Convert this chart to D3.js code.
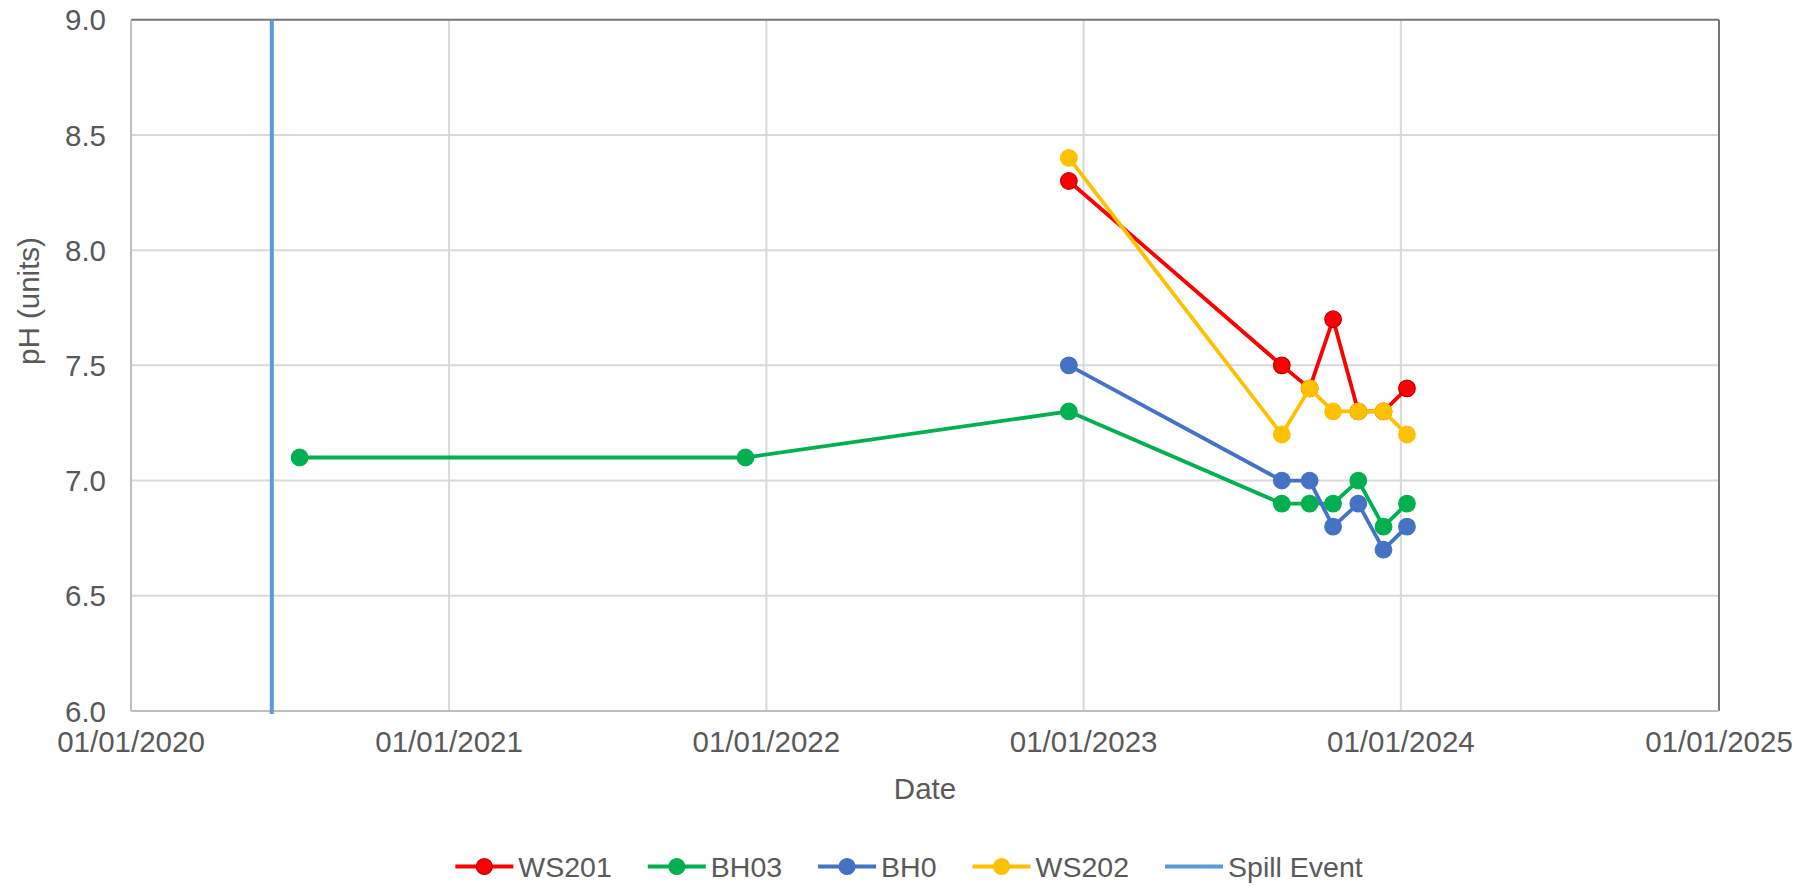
<!DOCTYPE html>
<html>
<head>
<meta charset="utf-8">
<script src="https://cdn.jsdelivr.net/npm/d3@7"></script>
<style>
  body { margin: 0; background: #fff; }
  text { font-family: "Liberation Sans", Arial, sans-serif; fill: #595959; }
</style>
</head>
<body>
<div id="chart"></div>
<script>
// data
var xTicks = ["2020-01-01", "2021-01-01", "2022-01-01", "2023-01-01", "2024-01-01", "2025-01-01"];
var yTicks = [6.0, 6.5, 7.0, 7.5, 8.0, 8.5, 9.0];
var spillDate = "2020-06-11";

var ws201Dates = ["2022-12-15", "2023-08-17", "2023-09-18", "2023-10-15", "2023-11-13", "2023-12-12", "2024-01-08"];
var ws201Values = [8.3, 7.5, 7.4, 7.7, 7.3, 7.3, 7.4];

var bh03Dates = ["2020-07-13", "2021-12-08", "2022-12-15", "2023-08-17", "2023-09-18", "2023-10-15", "2023-11-13", "2023-12-12", "2024-01-08"];
var bh03Values = [7.1, 7.1, 7.3, 6.9, 6.9, 6.9, 7.0, 6.8, 6.9];

var bh0Dates = ["2022-12-15", "2023-08-17", "2023-09-18", "2023-10-15", "2023-11-13", "2023-12-12", "2024-01-08"];
var bh0Values = [7.5, 7.0, 7.0, 6.8, 6.9, 6.7, 6.8];

var ws202Dates = ["2022-12-15", "2023-08-17", "2023-09-18", "2023-10-15", "2023-11-13", "2023-12-12", "2024-01-08"];
var ws202Values = [8.4, 7.2, 7.4, 7.3, 7.3, 7.3, 7.2];

var parse = d3.utcParse("%Y-%m-%d");

function pairs(dates, values) {
  return dates.map(function(d, i){ return { date: parse(d), value: values[i] }; });
}

var series = [
  { name: "WS201", color: "#ff0000", edge: "#c00000", points: pairs(ws201Dates, ws201Values) },
  { name: "BH03",  color: "#00b050", edge: "#00b050", points: pairs(bh03Dates, bh03Values) },
  { name: "BH0",   color: "#4472c4", edge: "#4472c4", points: pairs(bh0Dates, bh0Values) },
  { name: "WS202", color: "#ffc000", edge: "#ffc000", points: pairs(ws202Dates, ws202Values) }
];

var width = 1816, height = 886;
var plotLeft = 131, plotRight = 1719, plotTop = 19.7, plotBottom = 711;

var svg = d3.select("#chart")
  .append("svg")
  .attr("width", width)
  .attr("height", height);

var x = d3.scaleUtc()
  .domain([parse(xTicks[0]), parse(xTicks[xTicks.length - 1])])
  .range([plotLeft, plotRight]);

var y = d3.scaleLinear()
  .domain([6, 9])
  .range([plotBottom, plotTop]);

// gridlines
svg.append("g")
  .selectAll("line")
  .data(yTicks.slice(1, -1)).enter().append("line")
    .attr("x1", plotLeft).attr("x2", plotRight)
    .attr("y1", function(d){ return y(d); })
    .attr("y2", function(d){ return y(d); })
    .attr("stroke", "#d9d9d9")
    .attr("stroke-width", 2);

svg.append("g")
  .selectAll("line")
  .data(xTicks.slice(1, -1)).enter().append("line")
    .attr("x1", function(d){ return x(parse(d)); })
    .attr("x2", function(d){ return x(parse(d)); })
    .attr("y1", plotTop).attr("y2", plotBottom)
    .attr("stroke", "#d9d9d9")
    .attr("stroke-width", 2);

// frame: light left/bottom axes, darker top/right edges
svg.append("line").attr("x1", plotLeft).attr("x2", plotRight).attr("y1", plotTop).attr("y2", plotTop)
  .attr("stroke", "#767676").attr("stroke-width", 2);
svg.append("line").attr("x1", plotRight).attr("x2", plotRight).attr("y1", plotTop).attr("y2", plotBottom)
  .attr("stroke", "#767676").attr("stroke-width", 2);
svg.append("line").attr("x1", plotLeft).attr("x2", plotLeft).attr("y1", plotTop).attr("y2", plotBottom)
  .attr("stroke", "#bfbfbf").attr("stroke-width", 2);
svg.append("line").attr("x1", plotLeft).attr("x2", plotRight).attr("y1", plotBottom).attr("y2", plotBottom)
  .attr("stroke", "#bfbfbf").attr("stroke-width", 2);

// axes labels
var fmt = d3.utcFormat("%d/%m/%Y");
svg.append("g")
  .selectAll("text")
  .data(xTicks).enter().append("text")
    .attr("x", function(d){ return x(parse(d)); })
    .attr("y", 752)
    .attr("text-anchor", "middle")
    .attr("font-size", 29.5)
    .text(function(d){ return fmt(parse(d)); });

svg.append("g")
  .selectAll("text")
  .data(yTicks).enter().append("text")
    .attr("x", 106)
    .attr("y", function(d){ return y(d); })
    .attr("dy", "0.36em")
    .attr("text-anchor", "end")
    .attr("font-size", 29.5)
    .text(function(d){ return d.toFixed(1); });

svg.append("text")
  .attr("x", 925).attr("y", 799)
  .attr("text-anchor", "middle")
  .attr("font-size", 29.5)
  .text("Date");

svg.append("text")
  .attr("transform", "translate(28,301) rotate(-90)")
  .attr("dy", "0.36em")
  .attr("text-anchor", "middle")
  .attr("font-size", 29.5)
  .text("pH (units)");

// spill event
svg.append("line")
  .attr("x1", x(parse(spillDate))).attr("x2", x(parse(spillDate)))
  .attr("y1", plotTop).attr("y2", plotBottom + 3)
  .attr("stroke", "#5b9bd5")
  .attr("stroke-width", 4);

// series
var line = d3.line()
  .x(function(d){ return x(d.date); })
  .y(function(d){ return y(d.value); });

series.forEach(function(s){
  var g = svg.append("g");
  g.append("path")
    .datum(s.points)
    .attr("d", line)
    .attr("fill", "none")
    .attr("stroke", s.color)
    .attr("stroke-width", 3.8)
    .attr("stroke-linejoin", "round");
  g.selectAll("circle")
    .data(s.points).enter().append("circle")
      .attr("cx", function(d){ return x(d.date); })
      .attr("cy", function(d){ return y(d.value); })
      .attr("r", 8.3)
      .attr("fill", s.color)
      .attr("stroke", s.edge)
      .attr("stroke-width", 1.2);
});

// legend
var legendItems = series.map(function(s){ return { name: s.name, color: s.color, edge: s.edge, marker: true }; });
legendItems.push({ name: "Spill Event", color: "#5b9bd5", marker: false });

var legend = svg.append("g");
var lx = 0, ly = 866.5, gap = 36;
legendItems.forEach(function(item){
  var g = legend.append("g").attr("transform", "translate(" + lx + ",0)");
  g.append("line")
    .attr("x1", 0).attr("x2", 58)
    .attr("y1", ly).attr("y2", ly)
    .attr("stroke", item.color)
    .attr("stroke-width", item.marker ? 3.8 : 4.2);
  if (item.marker) {
    g.append("circle")
      .attr("cx", 29).attr("cy", ly).attr("r", 8)
      .attr("fill", item.color)
      .attr("stroke", item.edge)
      .attr("stroke-width", 1.2);
  }
  var t = g.append("text")
    .attr("x", 63).attr("y", ly)
    .attr("dy", "0.36em")
    .attr("font-size", 28.5)
    .text(item.name);
  lx += 63 + t.node().getComputedTextLength() + gap;
});
var legendWidth = lx - gap;
legend.attr("transform", "translate(" + (909 - legendWidth / 2) + ",0)");

</script>
</body>
</html>
